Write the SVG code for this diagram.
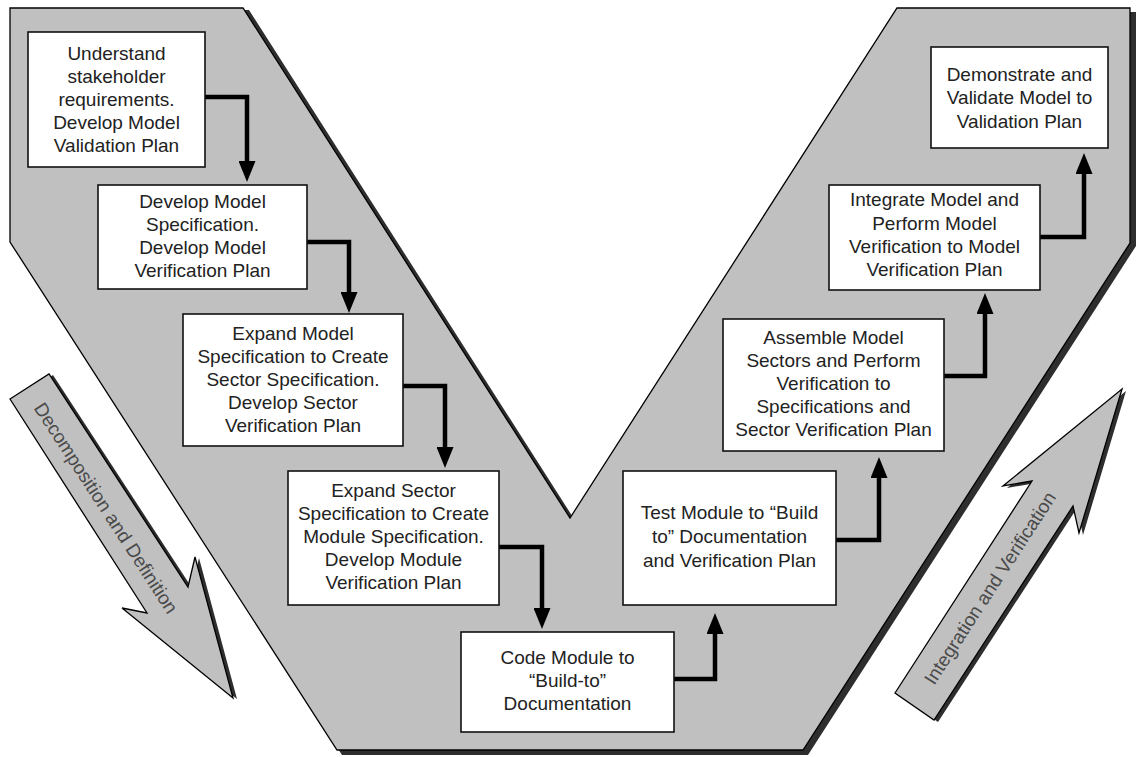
<svg xmlns="http://www.w3.org/2000/svg" width="1136" height="757" viewBox="0 0 1136 757">
<style>
.bg{fill:#c0c0c0;stroke:#000;stroke-width:1.3}
.sh{fill:#2e2e2e}
.box{fill:#fff;stroke:#111;stroke-width:1.6}
.t{font-family:"Liberation Sans",Arial,sans-serif;font-size:19px;fill:#222;text-anchor:middle}
.at{font-family:"Liberation Sans",Arial,sans-serif;font-size:19px;fill:#4a4a4a;text-anchor:middle}
.c{fill:none;stroke:#000;stroke-width:4.5;marker-end:url(#ah)}
</style>
<defs>
<marker id="ah" markerUnits="userSpaceOnUse" markerWidth="21" markerHeight="17" refX="0" refY="8.5" orient="auto">
<path d="M0,0 L21,8.5 L0,17 z" fill="#000"/>
</marker>
</defs>
<rect width="1136" height="757" fill="#fff"/>
<g id="vshape">
<polygon class="sh" points="15,12 249,10 576,522 902,12 1136,12 1136,246 808,755 342,755 15,247"/>
<polygon class="bg" points="10,8 243,8 570,518 897,8 1130,8 1130,243 803,750 337,750 10,242"/>
</g>
<g id="arrow-decomposition">
<polygon class="sh" transform="translate(4,1)" points="10,399 49,374 188,587 195,557 233,698 122,608 147,613"/>
<polygon class="bg" points="10,399 49,374 188,587 195,557 233,698 122,608 147,613"/>
<text class="at" transform="translate(106,508) rotate(57)" y="6.5">Decomposition and Definition</text>
</g>
<g id="arrow-integration">
<polygon class="sh" transform="translate(4,2)" points="895,693 1032,481 1003,486 1122,389 1079,533 1073,506 934,720"/>
<polygon class="bg" points="895,693 1032,481 1003,486 1122,389 1079,533 1073,506 934,720"/>
<text class="at" transform="translate(990,588) rotate(-57)" y="6.5">Integration and Verification</text>
</g>
<g id="connectors">
<path class="c" d="M205,97 H247 V161"/>
<path class="c" d="M307,242 H349 V292"/>
<path class="c" d="M403,386 H445 V447"/>
<path class="c" d="M499,547 H542 V608"/>
<path class="c" d="M674,679 H715 V634"/>
<path class="c" d="M836,540 H879 V478"/>
<path class="c" d="M944,376 H985 V314"/>
<path class="c" d="M1040,237 H1084 V174"/>
</g>
<g id="n1">
<rect class="box" x="28" y="32" width="177" height="135"/>
<text class="t" x="116.5" y="59.5">Understand</text>
<text class="t" x="116.5" y="82.5">stakeholder</text>
<text class="t" x="116.5" y="105.5">requirements.</text>
<text class="t" x="116.5" y="128.5">Develop Model</text>
<text class="t" x="116.5" y="151.5">Validation Plan</text>
</g>
<g id="n2">
<rect class="box" x="98" y="185" width="209" height="104"/>
<text class="t" x="202.5" y="208">Develop Model</text>
<text class="t" x="202.5" y="231">Specification.</text>
<text class="t" x="202.5" y="254">Develop Model</text>
<text class="t" x="202.5" y="277">Verification Plan</text>
</g>
<g id="n3">
<rect class="box" x="183" y="314" width="220" height="132"/>
<text class="t" x="293" y="339.5">Expand Model</text>
<text class="t" x="293" y="362.5">Specification to Create</text>
<text class="t" x="293" y="385.5">Sector Specification.</text>
<text class="t" x="293" y="408.5">Develop Sector</text>
<text class="t" x="293" y="431.5">Verification Plan</text>
</g>
<g id="n4">
<rect class="box" x="288" y="471" width="211" height="134"/>
<text class="t" x="393.5" y="497">Expand Sector</text>
<text class="t" x="393.5" y="520">Specification to Create</text>
<text class="t" x="393.5" y="543">Module Specification.</text>
<text class="t" x="393.5" y="566">Develop Module</text>
<text class="t" x="393.5" y="589">Verification Plan</text>
</g>
<g id="n5">
<rect class="box" x="461" y="632" width="213" height="100"/>
<text class="t" x="567.5" y="664">Code Module to</text>
<text class="t" x="567.5" y="687">“Build-to”</text>
<text class="t" x="567.5" y="710">Documentation</text>
</g>
<g id="n6">
<rect class="box" x="623" y="471" width="213" height="134"/>
<text class="t" x="729.5" y="519">Test Module to “Build</text>
<text class="t" x="729.5" y="543">to” Documentation</text>
<text class="t" x="729.5" y="567">and Verification Plan</text>
</g>
<g id="n7">
<rect class="box" x="723" y="319" width="221" height="132"/>
<text class="t" x="833.5" y="343.5">Assemble Model</text>
<text class="t" x="833.5" y="366.5">Sectors and Perform</text>
<text class="t" x="833.5" y="389.5">Verification to</text>
<text class="t" x="833.5" y="412.5">Specifications and</text>
<text class="t" x="833.5" y="435.5">Sector Verification Plan</text>
</g>
<g id="n8">
<rect class="box" x="829" y="185" width="211" height="105"/>
<text class="t" x="934.5" y="206">Integrate Model and</text>
<text class="t" x="934.5" y="230">Perform Model</text>
<text class="t" x="934.5" y="253">Verification to Model</text>
<text class="t" x="934.5" y="276">Verification Plan</text>
</g>
<g id="n9">
<rect class="box" x="931" y="47" width="177" height="101"/>
<text class="t" x="1019.5" y="81">Demonstrate and</text>
<text class="t" x="1019.5" y="104">Validate Model to</text>
<text class="t" x="1019.5" y="128">Validation Plan</text>
</g>
</svg>
